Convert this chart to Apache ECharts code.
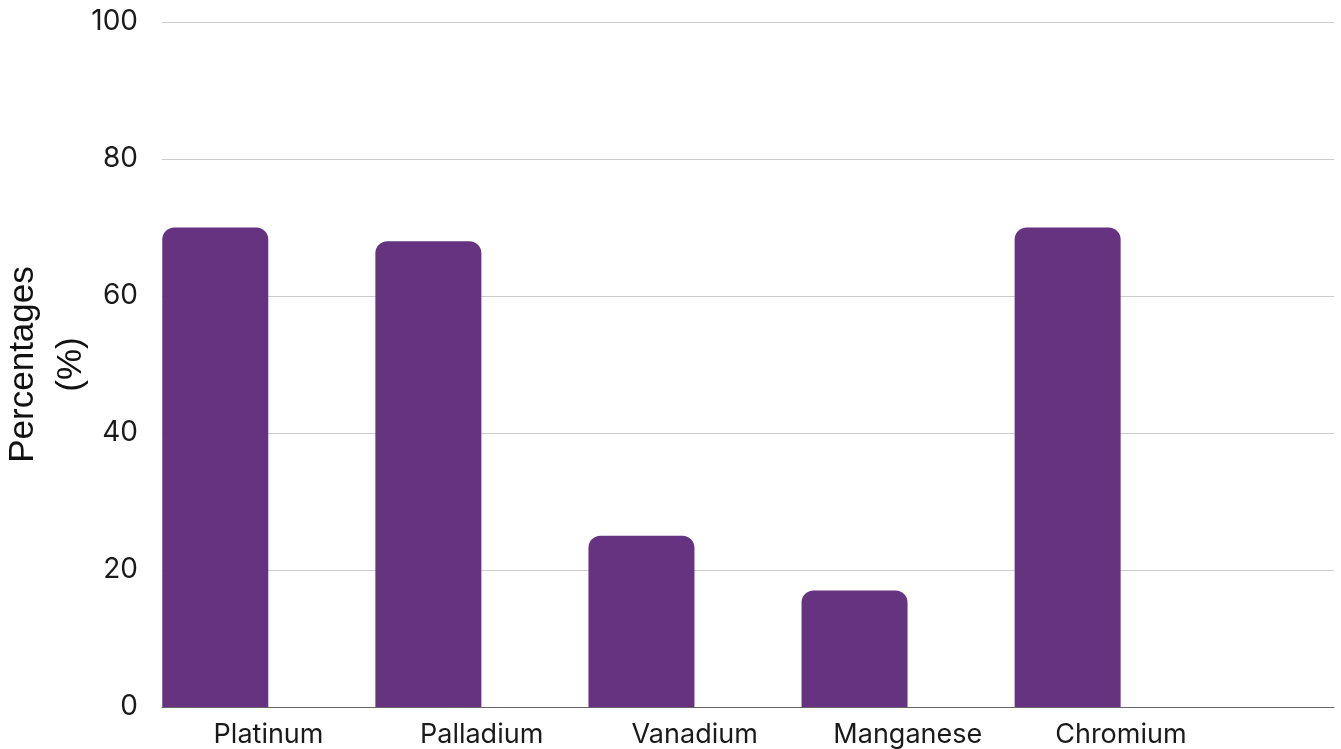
<!DOCTYPE html>
<html>
<head>
<meta charset="utf-8">
<style>
  html, body { margin: 0; padding: 0; background: #fff; }
  #chart { width: 1341px; height: 749px; }
</style>
<script src="https://cdn.jsdelivr.net/npm/echarts@6/dist/echarts.min.js"></script>
</head>
<body>
<div id="chart"></div>
<script>
// Share of each metal (percent)
const categories = ['Platinum', 'Palladium', 'Vanadium', 'Manganese', 'Chromium'];
const percentages = [70, 68, 25, 17, 70];
const yTicks = [0, 20, 40, 60, 80, 100];

// Each category occupies one unit on the x scale; the bar sits in the left half,
// the category label at the middle of the unit.
const barData = percentages.map((v, i) => [i + 0.25, v]);

const chart = echarts.init(document.getElementById('chart'), null, { renderer: 'canvas' });
chart.setOption({
  animation: false,
  backgroundColor: '#ffffff',
  grid: { left: 162, right: 7, top: 22, bottom: 42, containLabel: false, outerBoundsMode: 'none' },
  xAxis: {
    type: 'value',
    min: 0,
    max: categories.length + 0.5,
    interval: 0.5,
    splitLine: { show: false },
    axisTick: { show: false },
    axisLine: { show: true, lineStyle: { color: '#666666', width: 1 } },
    axisLabel: {
      margin: 14,
      fontFamily: 'Inter',
      fontSize: 27,
      color: '#1a1a1a',
      showMinLabel: true,
      showMaxLabel: true,
      formatter: function (v) {
        const i = Math.floor(v);
        return (Math.abs(v - i - 0.5) < 1e-6 && categories[i]) ? categories[i] : '';
      }
    }
  },
  yAxis: {
    type: 'value',
    min: yTicks[0],
    max: yTicks[yTicks.length - 1],
    interval: yTicks[1] - yTicks[0],
    name: 'Percentages\n(%)',
    nameLocation: 'middle',
    nameRotate: 90,
    nameGap: 67,
    nameMoveOverlap: false,
    nameTextStyle: {
      fontFamily: 'Liberation Sans',
      fontSize: 35,
      color: '#111111',
      lineHeight: 48
    },
    axisLine: { show: false },
    axisTick: { show: false },
    splitLine: { lineStyle: { color: '#cccccc', width: 1 } },
    axisLabel: {
      margin: 24,
      fontFamily: 'Inter',
      fontSize: 28,
      color: '#1a1a1a'
    }
  },
  series: [{
    type: 'bar',
    data: barData,
    barWidth: 106,
    itemStyle: { color: '#663381', borderRadius: [12, 12, 0, 0] }
  }]
});
</script>
</body>
</html>
